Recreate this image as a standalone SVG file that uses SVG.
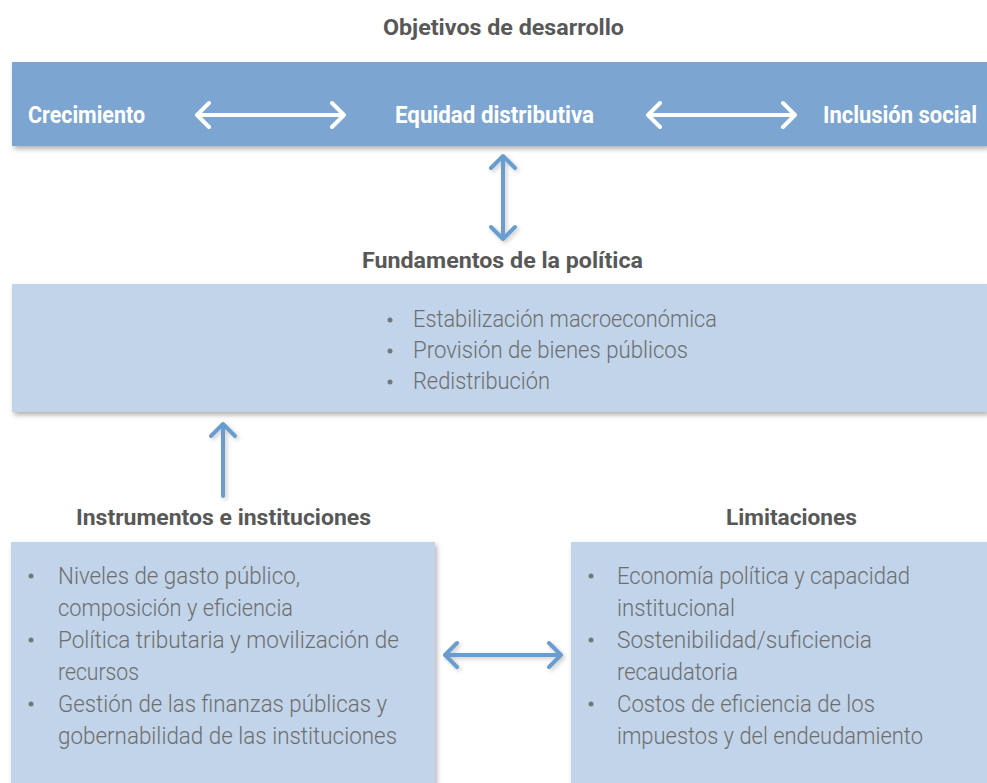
<svg xmlns="http://www.w3.org/2000/svg" width="987" height="783" viewBox="0 0 987 783">
<defs>
<filter id="sh" x="-5%" y="-10%" width="115%" height="130%">
<feDropShadow dx="2" dy="3" stdDeviation="2.5" flood-color="#000" flood-opacity="0.3"/>
</filter>
<filter id="ash" x="-50%" y="-20%" width="200%" height="140%">
<feDropShadow dx="2" dy="2" stdDeviation="2" flood-color="#000" flood-opacity="0.2"/>
</filter>
<style>
.hd{font-family:Roboto,"Liberation Sans",sans-serif;font-weight:700;font-size:22px;fill:#585858}
.bt{font-family:Roboto,"Liberation Sans",sans-serif;font-weight:700;font-size:24px;fill:#ffffff}
.tx{font-family:Roboto,"Liberation Sans",sans-serif;font-weight:300;font-size:23px;fill:#6e6e6e}
.band{fill:#7ba6d1}
.box{fill:#c1d4e9}
.dot{fill:#777777}
.wa{fill:none;stroke:#ffffff;stroke-width:4;stroke-linecap:round;stroke-linejoin:round}
.ba{fill:none;stroke:#6a9dcf;stroke-width:4;stroke-linecap:round;stroke-linejoin:round}
</style>
</defs>
<rect width="987" height="783" fill="#ffffff"/>

<g id="objetivos">
<text class="hd" x="383" y="35" textLength="241" lengthAdjust="spacingAndGlyphs">Objetivos de desarrollo</text>
<rect class="band" x="12" y="62" width="975" height="84" filter="url(#sh)"/>
<text class="bt" x="28" y="123" textLength="117" lengthAdjust="spacingAndGlyphs">Crecimiento</text>
<text class="bt" x="395" y="123" textLength="199" lengthAdjust="spacingAndGlyphs">Equidad distributiva</text>
<text class="bt" x="823" y="123" textLength="154" lengthAdjust="spacingAndGlyphs">Inclusión social</text>
</g>

<g id="fundamentos">
<text class="hd" x="362" y="268" textLength="281" lengthAdjust="spacingAndGlyphs">Fundamentos de la política</text>
<rect class="box" x="12" y="284" width="975" height="128" filter="url(#sh)"/>
<circle class="dot" cx="390" cy="320" r="2.5"/>
<circle class="dot" cx="390" cy="351" r="2.5"/>
<circle class="dot" cx="390" cy="382" r="2.5"/>
<text class="tx" x="413" y="327" textLength="304" lengthAdjust="spacingAndGlyphs">Estabilización macroeconómica</text>
<text class="tx" x="413" y="358" textLength="275" lengthAdjust="spacingAndGlyphs">Provisión de bienes públicos</text>
<text class="tx" x="413" y="389" textLength="137" lengthAdjust="spacingAndGlyphs">Redistribución</text>
</g>

<g id="instrumentos">
<text class="hd" x="76" y="525" textLength="295" lengthAdjust="spacingAndGlyphs">Instrumentos e instituciones</text>
<rect class="box" x="11" y="542" width="424" height="260" filter="url(#sh)"/>
<circle class="dot" cx="31" cy="576" r="2.5"/>
<circle class="dot" cx="31" cy="640" r="2.5"/>
<circle class="dot" cx="31" cy="704" r="2.5"/>
<text class="tx" x="58" y="584" textLength="242" lengthAdjust="spacingAndGlyphs">Niveles de gasto público,</text>
<text class="tx" x="58" y="616" textLength="235" lengthAdjust="spacingAndGlyphs">composición y eficiencia</text>
<text class="tx" x="58" y="648" textLength="341" lengthAdjust="spacingAndGlyphs">Política tributaria y movilización de</text>
<text class="tx" x="58" y="680" textLength="81" lengthAdjust="spacingAndGlyphs">recursos</text>
<text class="tx" x="58" y="712" textLength="329" lengthAdjust="spacingAndGlyphs">Gestión de las finanzas públicas y</text>
<text class="tx" x="58" y="744" textLength="339" lengthAdjust="spacingAndGlyphs">gobernabilidad de las instituciones</text>
</g>

<g id="limitaciones">
<text class="hd" x="726" y="525" textLength="131" lengthAdjust="spacingAndGlyphs">Limitaciones</text>
<rect class="box" x="571" y="542" width="416" height="260" filter="url(#sh)"/>
<circle class="dot" cx="591" cy="576" r="2.5"/>
<circle class="dot" cx="591" cy="640" r="2.5"/>
<circle class="dot" cx="591" cy="704" r="2.5"/>
<text class="tx" x="617" y="584" textLength="293" lengthAdjust="spacingAndGlyphs">Economía política y capacidad</text>
<text class="tx" x="617" y="616" textLength="118" lengthAdjust="spacingAndGlyphs">institucional</text>
<text class="tx" x="617" y="648" textLength="255" lengthAdjust="spacingAndGlyphs">Sostenibilidad/suficiencia</text>
<text class="tx" x="617" y="680" textLength="121" lengthAdjust="spacingAndGlyphs">recaudatoria</text>
<text class="tx" x="617" y="712" textLength="258" lengthAdjust="spacingAndGlyphs">Costos de eficiencia de los</text>
<text class="tx" x="617" y="744" textLength="306" lengthAdjust="spacingAndGlyphs">impuestos y del endeudamiento</text>
</g>

<g id="connectors">
<path class="wa" d="M197 115H344M209 103L197 115L209 127M332 103L344 115L332 127"/>
<path class="wa" d="M648 115H795M660 103L648 115L660 127M783 103L795 115L783 127"/>
<g filter="url(#ash)">
<path class="ba" d="M503 156V239M491 168L503 156L515 168M491 227L503 239L515 227"/>
<path class="ba" d="M223 424V496M211 436L223 424L235 436"/>
<path class="ba" d="M445 655H561M457 643L445 655L457 667M549 643L561 655L549 667"/>
</g>
</g>
</svg>
